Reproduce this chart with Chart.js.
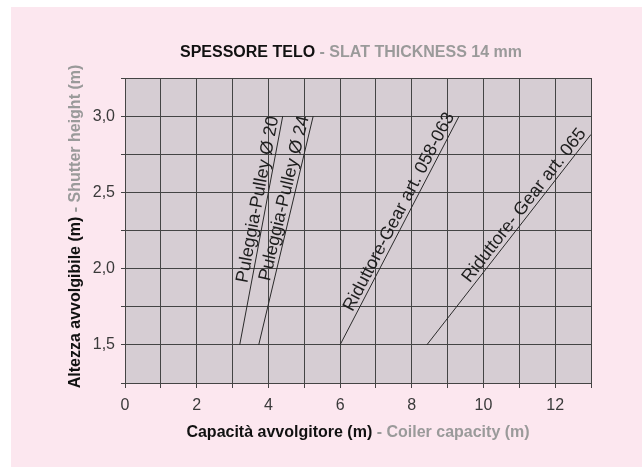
<!DOCTYPE html>
<html><head><meta charset="utf-8">
<script src="https://cdn.jsdelivr.net/npm/chart.js@4"></script>
<style>html,body{margin:0;padding:0;background:#fff}#wrap{width:642px;height:469px;position:relative}</style>
</head><body><div id="wrap"><canvas id="c" width="642" height="469"></canvas></div>
<script>
// ---- data ----
const seriesNames = ['Puleggia-Pulley Ø 20', 'Puleggia-Pulley Ø 24', 'Riduttore-Gear art. 058-063', 'Riduttore- Gear art. 065'];
const pulley20X = [3.2, 4.4];
const pulley20Y = [1.5, 3.0];
const pulley24X = [3.73, 5.25];
const pulley24Y = [1.5, 3.0];
const gear058X = [6.0, 9.32];
const gear058Y = [1.5, 3.0];
const gear065X = [8.42, 13.0];
const gear065Y = [1.5, 2.88];
const xTickValues = [0, 2, 4, 6, 8, 10, 12];
const yTickValues = [1.5, 2.0, 2.5, 3.0];
const yTickLabels = ['1,5', '2,0', '2,5', '3,0'];
const titleMain = 'SPESSORE TELO';
const titleSub = ' - SLAT THICKNESS 14 mm';
const xTitleMain = 'Capacità avvolgitore (m)';
const xTitleSub = ' - Coiler capacity (m)';
const yTitleMain = 'Altezza avvolgibile (m)';
const yTitleSub = ' - Shutter height (m)';

const FONT = "'Liberation Sans', Arial, Helvetica, sans-serif";
const toPts = (xs, ys) => xs.map((x, i) => ({x: x, y: ys[i]}));
const seriesX = [pulley20X, pulley24X, gear058X, gear065X];
const seriesY = [pulley20Y, pulley24Y, gear058Y, gear065Y];

const datasets = seriesNames.map((n, i) => ({
  label: n,
  data: toPts(seriesX[i], seriesY[i]),
  borderColor: '#2a2a2a',
  borderWidth: 1,
  pointRadius: 0,
  fill: false,
  tension: 0
}));

function twoTone(ctx, a, b, cx, y, colA, colB) {
  const wa = ctx.measureText(a).width, wb = ctx.measureText(b).width;
  let x0 = cx - (wa + wb) / 2;
  ctx.textAlign = 'left';
  ctx.fillStyle = colA; ctx.fillText(a, x0, y);
  ctx.fillStyle = colB; ctx.fillText(b, x0 + wa, y);
}

const decor = {
  id: 'decor',
  beforeDraw(chart) {
    const ctx = chart.ctx, ca = chart.chartArea;
    ctx.save();
    ctx.fillStyle = '#ffffff';
    ctx.fillRect(0, 0, chart.width, chart.height);
    ctx.fillStyle = '#fce7ef';
    ctx.fillRect(11, 7, chart.width - 11, 460);
    ctx.fillStyle = '#d6cdd3';
    ctx.fillRect(ca.left, ca.top, ca.right - ca.left, ca.bottom - ca.top);
    ctx.restore();
  },
  afterDraw(chart) {
    const ctx = chart.ctx, ca = chart.chartArea;
    ctx.save();
    ctx.textBaseline = 'alphabetic';
    ctx.font = 'bold 16px ' + FONT;
    twoTone(ctx, titleMain, titleSub, (ca.left + ca.right) / 2 - 7, 57, '#111', '#9a9a9a');
    twoTone(ctx, xTitleMain, xTitleSub, (ca.left + ca.right) / 2, 437, '#111', '#9a9a9a');
    ctx.translate(80, (ca.top + ca.bottom) / 2 - 4);
    ctx.rotate(-Math.PI / 2);
    twoTone(ctx, yTitleMain, yTitleSub, 0, 0, '#111', '#9a9a9a');
    ctx.restore();
  },
  afterDatasetsDraw(chart) {
    const ctx = chart.ctx;
    ctx.save();
    ctx.font = '18px ' + FONT;
    ctx.fillStyle = '#1e1e1e';
    ctx.textAlign = 'right';
    ctx.textBaseline = 'alphabetic';
    chart.data.datasets.forEach((ds, i) => {
      const meta = chart.getDatasetMeta(i);
      const p0 = meta.data[0], p1 = meta.data[meta.data.length - 1];
      const ang = Math.atan2(p1.y - p0.y, p1.x - p0.x);
      ctx.save();
      ctx.translate(p1.x, p1.y);
      ctx.rotate(ang);
      ctx.fillText(ds.label, -2, -4);
      ctx.restore();
    });
    ctx.restore();
  }
};

new Chart(document.getElementById('c'), {
  type: 'line',
  data: { datasets: datasets },
  options: {
    responsive: false,
    animation: false,
    events: [],
    layout: { padding: { top: 78, right: 51, left: 0, bottom: 0 } },
    plugins: { legend: { display: false }, tooltip: { enabled: false }, title: { display: false } },
    scales: {
      x: {
        type: 'linear', min: 0, max: 13,
        afterFit(s) { s.height = 86; },
        afterBuildTicks(s) { s.ticks = Array.from({length: 14}, (_, k) => ({value: k})); },
        ticks: {
          stepSize: 1, autoSkip: false, maxRotation: 0, padding: 8,
          color: '#3a3a3a', font: { family: FONT, size: 16 },
          callback: v => xTickValues.includes(v) ? String(v) : ''
        },
        grid: { color: '#444444', lineWidth: 1, tickLength: 5, drawTicks: true },
        border: { display: true, color: '#444444', width: 1 }
      },
      y: {
        type: 'linear', min: 1.25, max: 3.25,
        afterFit(s) { s.width = 125; },
        afterBuildTicks(s) { s.ticks = Array.from({length: 9}, (_, k) => ({value: 1.25 + k * 0.25})); },
        ticks: {
          stepSize: 0.25, autoSkip: false, padding: 6,
          color: '#3a3a3a', font: { family: FONT, size: 16 },
          callback: v => {
            const idx = yTickValues.findIndex(t => Math.abs(t - v) < 1e-6);
            return idx >= 0 ? yTickLabels[idx] : '';
          }
        },
        grid: { color: '#444444', lineWidth: 1, tickLength: 4, drawTicks: true },
        border: { display: true, color: '#444444', width: 1 }
      }
    }
  },
  plugins: [decor]
});
</script>
</body></html>
